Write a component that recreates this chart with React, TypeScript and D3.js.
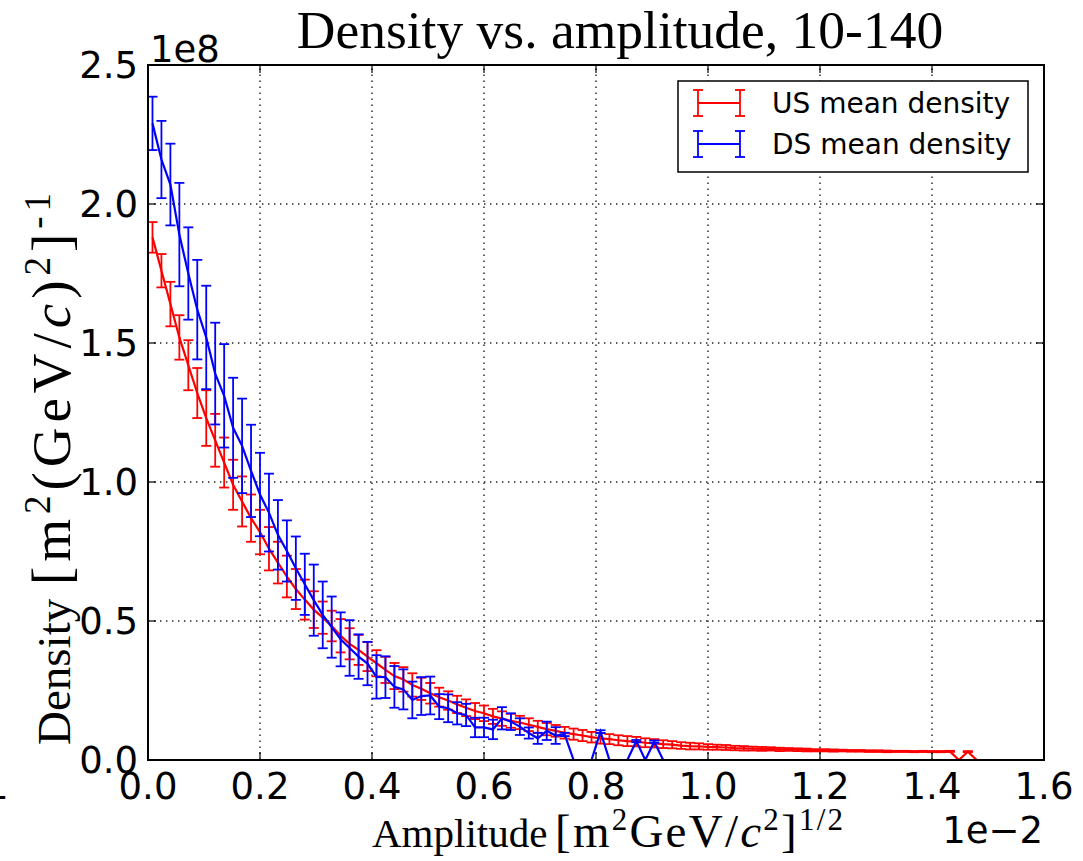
import React from "react";
import * as d3 from "d3";

// Amplitude bins (units of 1e-2): regular bin grid
const BIN_START = 0.008;
const BIN_WIDTH = 0.016;

// US mean density (units of 1e8)
const usMean = [
  1.88, 1.76, 1.64, 1.52, 1.42, 1.32, 1.23, 1.15, 1.07, 0.99,
  0.93, 0.87, 0.82, 0.76, 0.71, 0.66, 0.615, 0.577, 0.541, 0.512,
  0.482, 0.447, 0.418, 0.396, 0.372, 0.348, 0.324, 0.302, 0.29, 0.27,
  0.256, 0.24, 0.226, 0.214, 0.2, 0.188, 0.176, 0.168, 0.157, 0.149,
  0.141, 0.135, 0.127, 0.119, 0.111, 0.105, 0.098, 0.093, 0.088, 0.082,
  0.078, 0.075, 0.071, 0.068, 0.066, 0.062, 0.06, 0.057, 0.055, 0.052,
  0.05, 0.049, 0.047, 0.046, 0.045, 0.043, 0.042, 0.041, 0.04, 0.04,
  0.038, 0.038, 0.037, 0.036, 0.035, 0.035, 0.034, 0.034, 0.033, 0.033,
  0.032, 0.032, 0.031, 0.031, 0.031, 0.03, 0.031, 0.03, 0.03, 0.031,
  0, 0.03, 0,
];
const usErr = [
  0.055, 0.06, 0.08, 0.08, 0.09, 0.09, 0.1, 0.095, 0.09, 0.09,
  0.09, 0.085, 0.08, 0.078, 0.075, 0.075, 0.072, 0.072, 0.066, 0.058,
  0.055, 0.06, 0.056, 0.054, 0.052, 0.047, 0.047, 0.047, 0.044, 0.042,
  0.04, 0.037, 0.034, 0.033, 0.031, 0.03, 0.029, 0.028, 0.027, 0.026,
  0.025, 0.024, 0.023, 0.022, 0.022, 0.021, 0.021, 0.02, 0.02, 0.019,
  0.019, 0.018, 0.018, 0.018, 0.017, 0.016, 0.015, 0.014, 0.013, 0.012,
  0.012, 0.011, 0.01, 0.009, 0.009, 0.008, 0.008, 0.007, 0.007, 0.006,
  0.006, 0.005, 0.005, 0.005, 0.004, 0.004, 0.004, 0.003, 0.003, 0.003,
  0.003, 0.003, 0.003, 0.002, 0.002, 0.002, 0.002, 0.002, 0.002, 0.002,
  0, 0.002, 0,
];

// DS mean density (units of 1e8)
const dsMean = [
  2.29, 2.16, 2.07, 1.89, 1.75, 1.62, 1.52, 1.39, 1.31, 1.195,
  1.13, 1.04, 0.955, 0.89, 0.81, 0.752, 0.69, 0.632, 0.575, 0.522,
  0.478, 0.434, 0.403, 0.372, 0.347, 0.299, 0.298, 0.263, 0.254, 0.216,
  0.23, 0.232, 0.192, 0.186, 0.168, 0.162, 0.117, 0.117, 0.11, 0.15,
  0.138, 0.12, 0.097, 0.078, 0.105, 0.088, 0.092, 0, 0, 0,
  0.102, 0, 0, 0, 0.068, 0, 0.066, 0,
];
const dsErr = [
  0.096, 0.139, 0.147, 0.186, 0.166, 0.179, 0.186, 0.183, 0.186, 0.18,
  0.17, 0.166, 0.15, 0.14, 0.125, 0.11, 0.114, 0.11, 0.128, 0.12,
  0.11, 0.097, 0.1, 0.08, 0.078, 0.078, 0.075, 0.075, 0.072, 0.066,
  0.068, 0.068, 0.045, 0.05, 0.04, 0.04, 0.035, 0.035, 0.035, 0.04,
  0.03, 0.03, 0.02, 0.02, 0.033, 0.03, 0.006, 0, 0, 0,
  0.005, 0, 0, 0, 0.004, 0, 0.004, 0,
];

const xTicks = [0, 0.2, 0.4, 0.6, 0.8, 1.0, 1.2, 1.4, 1.6];
const yTicks = [0, 0.5, 1.0, 1.5, 2.0, 2.5];

const series = [
  { name: "US mean density", color: "#ff0000", mean: usMean, err: usErr },
  { name: "DS mean density", color: "#0000ff", mean: dsMean, err: dsErr },
];

const W = 1083;
const H = 861;
const L = 148, R = 1044, T = 65, B = 760;
const SANS = "DejaVu Sans";
const SERIF = "Liberation Serif";

export default function App() {
  const x = d3.scaleLinear().domain([0, 1.6]).range([L, R]);
  const y = d3.scaleLinear().domain([0, 2.5]).range([B, T]);
  const line = d3
    .line<{ x: number; y: number }>()
    .x((d) => x(d.x))
    .y((d) => y(d.y));
  const cap = 5;
  const tickLen = 8;

  return (
    <svg
      width={W}
      height={H}
      style={{ position: "absolute", left: 0, top: 0, background: "#fff" }}
    >
      <rect x={0} y={0} width={W} height={H} fill="#fff" />
      <defs>
        <clipPath id="plotclip">
          <rect x={L} y={T} width={R - L} height={B - T} />
        </clipPath>
      </defs>
      {/* grid */}
      <g stroke="#222" strokeWidth={1.4} strokeDasharray="1.4 4.6">
        {xTicks.slice(1, -1).map((t) => (
          <line key={"gx" + t} x1={x(t)} x2={x(t)} y1={B} y2={T} />
        ))}
        {yTicks.slice(1, -1).map((t) => (
          <line key={"gy" + t} x1={L} x2={R} y1={y(t)} y2={y(t)} />
        ))}
      </g>
      {/* data */}
      <g clipPath="url(#plotclip)">
        {series.map((s) => {
          const pts = s.mean.map((m, i) => ({ x: BIN_START + BIN_WIDTH * i, y: m }));
          return (
            <g key={s.name}>
              <g stroke={s.color} strokeWidth={1.8}>
                {pts.map((p, i) =>
                  s.err[i] > 0 ? (
                    <g key={i}>
                      <line x1={x(p.x)} x2={x(p.x)} y1={y(p.y - s.err[i])} y2={y(p.y + s.err[i])} />
                      <line x1={x(p.x) - cap} x2={x(p.x) + cap} y1={y(p.y - s.err[i])} y2={y(p.y - s.err[i])} />
                      <line x1={x(p.x) - cap} x2={x(p.x) + cap} y1={y(p.y + s.err[i])} y2={y(p.y + s.err[i])} />
                    </g>
                  ) : null
                )}
              </g>
              <path d={line(pts) || ""} fill="none" stroke={s.color} strokeWidth={2.2} />
            </g>
          );
        })}
      </g>
      {/* ticks */}
      <g stroke="#000" strokeWidth={1.2}>
        {xTicks.map((t) => (
          <g key={"tx" + t}>
            <line x1={x(t)} x2={x(t)} y1={B} y2={B - tickLen} />
            <line x1={x(t)} x2={x(t)} y1={T} y2={T + tickLen} />
          </g>
        ))}
        {yTicks.map((t) => (
          <g key={"ty" + t}>
            <line x1={L} x2={L + tickLen} y1={y(t)} y2={y(t)} />
            <line x1={R} x2={R - tickLen} y1={y(t)} y2={y(t)} />
          </g>
        ))}
      </g>
      {/* frame */}
      <rect x={L} y={T} width={R - L} height={B - T} fill="none" stroke="#000" strokeWidth={2} />
      {/* tick labels */}
      <g fontFamily={SANS} fontSize={37} fill="#000">
        {xTicks.map((t) => (
          <text key={"lx" + t} x={x(t)} y={799} textAnchor="middle">
            {t.toFixed(1)}
          </text>
        ))}
        {yTicks.map((t) => (
          <text key={"ly" + t} x={138} y={y(t) + 13} textAnchor="end">
            {t.toFixed(1)}
          </text>
        ))}
        <text x={150} y={62}>1e8</text>
        <text x={1043} y={843} textAnchor="end">1e−2</text>
        <text x={-15} y={799}>1</text>
      </g>
      {/* title */}
      <text x={620} y={48} textAnchor="middle" fontFamily={SERIF} fontSize={53.5}>
        Density vs. amplitude, 10-140
      </text>
      {/* x label */}
      <text x={372} y={847} fontFamily={SERIF} fontSize={41}>
        Amplitude
      </text>
      <text
        x={555}
        y={847}
        fontFamily={SERIF}
        fontSize={47}
        textLength={288}
        lengthAdjust="spacing"
      >
        [m
        <tspan dy={-17} fontSize={31}>2</tspan>
        <tspan dy={17}>GeV/</tspan>
        <tspan fontStyle="italic">c</tspan>
        <tspan dy={-17} fontSize={31}>2</tspan>
        <tspan dy={17}>]</tspan>
        <tspan dy={-17} fontSize={31}>1/2</tspan>
      </text>
      {/* y label */}
      <g transform="translate(70,745) rotate(-90)">
        <text x={0} y={0} fontFamily={SERIF} fontSize={47}>
          Density
        </text>
        <text
          x={160}
          y={0}
          fontFamily={SERIF}
          fontSize={55}
          textLength={392}
          lengthAdjust="spacing"
        >
          [m
          <tspan dy={-20} fontSize={37}>2</tspan>
          <tspan dy={20}>(GeV/</tspan>
          <tspan fontStyle="italic">c</tspan>
          <tspan>)</tspan>
          <tspan dy={-20} fontSize={37}>2</tspan>
          <tspan dy={20}>]</tspan>
          <tspan dy={-20} fontSize={37}>-1</tspan>
        </text>
      </g>
      {/* legend */}
      <rect x={678} y={81} width={350} height={91} fill="#fff" stroke="#000" strokeWidth={1.5} />
      {series.map((s, k) => {
        const ly = 103 + k * 41;
        return (
          <g key={"leg" + s.name}>
            <g stroke={s.color} strokeWidth={1.8}>
              <line x1={698} x2={740} y1={ly} y2={ly} />
              <line x1={698} x2={698} y1={ly - 13} y2={ly + 13} />
              <line x1={740} x2={740} y1={ly - 13} y2={ly + 13} />
              <line x1={693} x2={703} y1={ly - 13} y2={ly - 13} />
              <line x1={693} x2={703} y1={ly + 13} y2={ly + 13} />
              <line x1={735} x2={745} y1={ly - 13} y2={ly - 13} />
              <line x1={735} x2={745} y1={ly + 13} y2={ly + 13} />
            </g>
            <text x={772} y={ly + 10} fontFamily={SANS} fontSize={28}>
              {s.name}
            </text>
          </g>
        );
      })}
    </svg>
  );
}
